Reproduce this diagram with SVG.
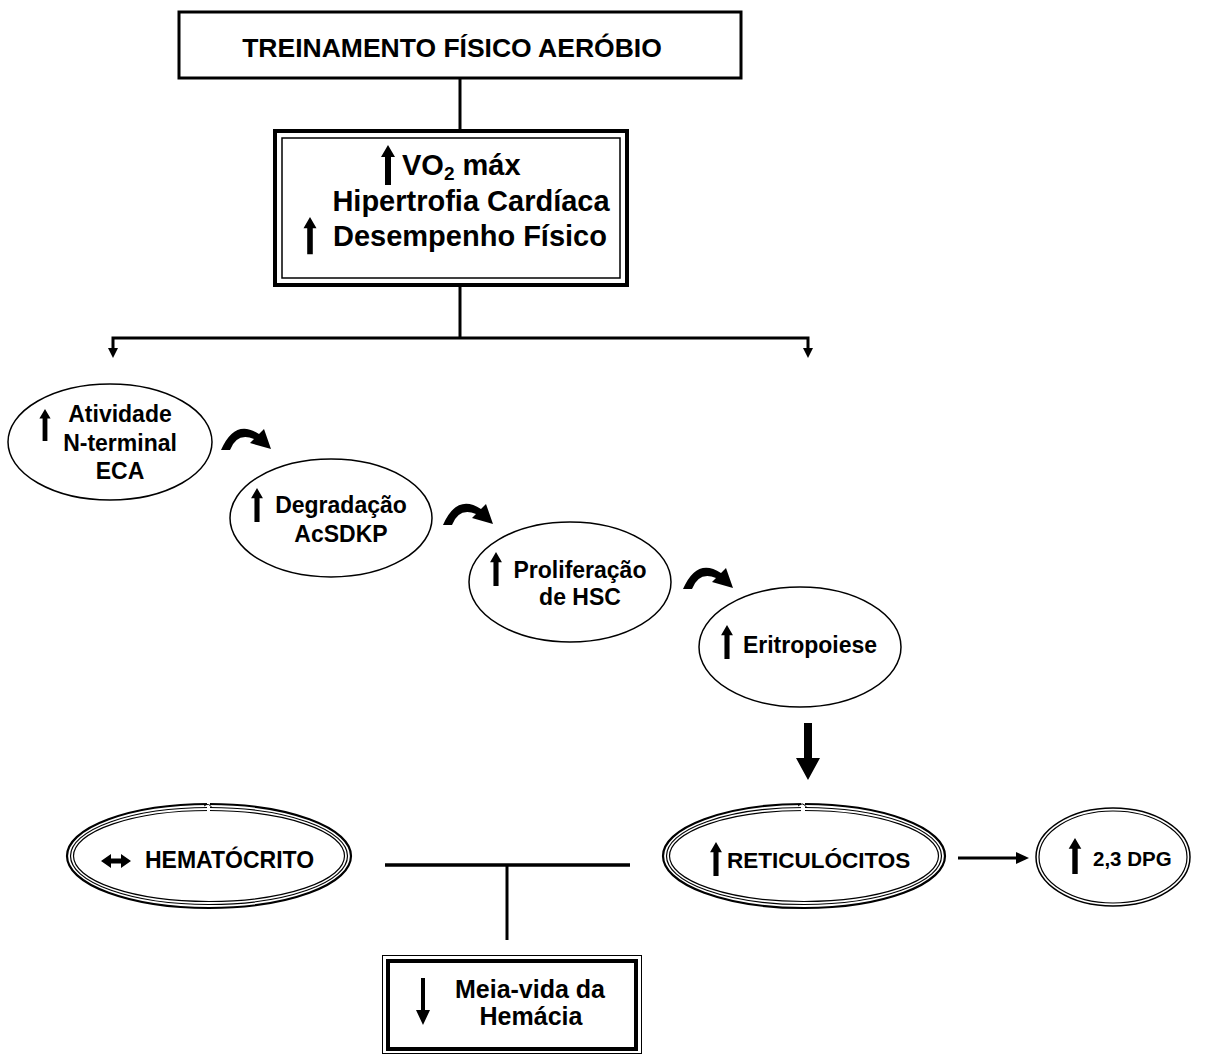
<svg xmlns="http://www.w3.org/2000/svg" xmlns:xlink="http://www.w3.org/1999/xlink" width="1206" height="1054" viewBox="0 0 1206 1054">
<style>
text{font-family:"Liberation Sans",Arial,sans-serif;font-weight:bold;fill:#000}
.ln{stroke:#000;fill:none}
.el{fill:#fff;stroke:#000;stroke-width:1.5}
.t26{font-size:26.5px}
.t28{font-size:29px}
.t22{font-size:23px}
.t25{font-size:25px}
.gap{fill:#fff}
</style>
<defs>
<path id="up" d="M0,0 L7,12 L3,12 L3,40 L-3,40 L-3,12 L-7,12 Z" fill="#000"/>
<path id="curv" d="M0,22 Q14,-10 38,6 L43,1 L50,21 L29,15 L33,11 Q16,4 9,22 Z" fill="#000"/>
<path id="dnhead" d="M-5,0 L5,0 L0,10 Z" fill="#000"/>
</defs>
<rect width="1206" height="1054" fill="#fff"/>

<g id="connectors">
<line class="ln" x1="460" y1="78" x2="460" y2="129" stroke-width="3"/>
<line class="ln" x1="460" y1="287" x2="460" y2="338" stroke-width="3"/>
<polyline class="ln" points="113,350 113,338 808,338 808,350" stroke-width="3"/>
<use xlink:href="#dnhead" transform="translate(113,348)"/>
<use xlink:href="#dnhead" transform="translate(808,348)"/>
<use xlink:href="#curv" transform="translate(221,428)"/>
<use xlink:href="#curv" transform="translate(443,503)"/>
<use xlink:href="#curv" transform="translate(683,567)"/>
<path d="M804,723 L812,723 L812,758 L820,758 L808,780 L796,758 L804,758 Z" fill="#000"/>
<line class="ln" x1="385" y1="865" x2="630" y2="865" stroke-width="3.5"/>
<line class="ln" x1="507" y1="865" x2="507" y2="940" stroke-width="3"/>
<line class="ln" x1="958" y1="858" x2="1018" y2="858" stroke-width="3"/>
<path d="M1016,852 L1029,858 L1016,864 Z" fill="#000"/>
</g>

<g id="n-treinamento">
<rect x="179" y="12" width="562" height="66" fill="#fff" stroke="#000" stroke-width="3"/>
<text x="452" y="57" class="t26" text-anchor="middle">TREINAMENTO FÍSICO AERÓBIO</text>
</g>

<g id="n-vo2">
<rect x="275" y="131" width="352" height="154" fill="#fff" stroke="#000" stroke-width="4"/>
<rect x="282" y="138" width="338" height="140" fill="none" stroke="#000" stroke-width="1.5"/>
<use xlink:href="#up" transform="translate(388,145)"/>
<text x="402" y="175" class="t28">VO<tspan font-size="19" dy="5">2</tspan><tspan dy="-5"> máx</tspan></text>
<text x="471" y="211" class="t28" text-anchor="middle">Hipertrofia Cardíaca</text>
<use xlink:href="#up" transform="translate(310,217) scale(0.93)"/>
<text x="333" y="246" class="t28">Desempenho Físico</text>
</g>

<g id="n-atividade">
<ellipse class="el" cx="110" cy="442" rx="102" ry="58"/>
<use xlink:href="#up" transform="translate(45,409) scale(0.8)"/>
<text x="120" y="422" class="t22" text-anchor="middle">Atividade</text>
<text x="120" y="451" class="t22" text-anchor="middle">N-terminal</text>
<text x="120" y="479" class="t22" text-anchor="middle">ECA</text>
</g>

<g id="n-degradacao">
<ellipse class="el" cx="331" cy="518" rx="101" ry="59"/>
<use xlink:href="#up" transform="translate(257,488) scale(0.85)"/>
<text x="341" y="513" class="t22" text-anchor="middle">Degradação</text>
<text x="341" y="542" class="t22" text-anchor="middle">AcSDKP</text>
</g>

<g id="n-proliferacao">
<ellipse class="el" cx="570" cy="582" rx="101" ry="60"/>
<use xlink:href="#up" transform="translate(496,552) scale(0.85)"/>
<text x="580" y="578" class="t22" text-anchor="middle">Proliferação</text>
<text x="580" y="605" class="t22" text-anchor="middle">de HSC</text>
</g>

<g id="n-eritropoiese">
<ellipse class="el" cx="800" cy="647" rx="101" ry="60"/>
<use xlink:href="#up" transform="translate(727,625) scale(0.85)"/>
<text x="810" y="653" class="t22" text-anchor="middle">Eritropoiese</text>
</g>

<g id="n-hematocrito">
<ellipse cx="209" cy="856" rx="142" ry="52" fill="#fff" stroke="#000" stroke-width="2.2"/>
<ellipse cx="209" cy="856" rx="138.5" ry="48.5" fill="none" stroke="#000" stroke-width="1.2"/>
<ellipse cx="209" cy="856" rx="135.5" ry="45.5" fill="none" stroke="#000" stroke-width="1.2"/>
<rect class="gap" x="207" y="802" width="3" height="12"/>
<path d="M204,806 Q209,802 212,808" fill="none" stroke="#000" stroke-width="1"/>
<path d="M101,861 L111,854 L111,858.5 L121,858.5 L121,854 L131,861 L121,868 L121,863.5 L111,863.5 L111,868 Z" fill="#000"/>
<text x="145" y="868" class="t22">HEMATÓCRITO</text>
</g>

<g id="n-reticulocitos">
<ellipse cx="804" cy="856" rx="141" ry="52" fill="#fff" stroke="#000" stroke-width="2.2"/>
<ellipse cx="804" cy="856" rx="137.5" ry="48.5" fill="none" stroke="#000" stroke-width="1.2"/>
<ellipse cx="804" cy="856" rx="134.5" ry="45.5" fill="none" stroke="#000" stroke-width="1.2"/>
<rect class="gap" x="801" y="802" width="4" height="12"/>
<path d="M798,806 Q803,801 807,808" fill="none" stroke="#000" stroke-width="1"/>
<use xlink:href="#up" transform="translate(716,842) scale(0.85)"/>
<text x="727" y="868" font-size="22.5">RETICULÓCITOS</text>
</g>

<g id="n-dpg">
<ellipse cx="1113" cy="857" rx="77" ry="49" fill="#fff" stroke="#000" stroke-width="1.5"/>
<ellipse cx="1113" cy="857" rx="74" ry="46" fill="none" stroke="#000" stroke-width="1.2"/>
<use xlink:href="#up" transform="translate(1075,838) scale(0.9)"/>
<text x="1093" y="866" font-size="20.5">2,3 DPG</text>
</g>

<g id="n-meiavida">
<rect x="382.5" y="955.5" width="259" height="98" fill="#fff" stroke="#000" stroke-width="1"/>
<rect x="388" y="961" width="248" height="88" fill="none" stroke="#000" stroke-width="4"/>
<path d="M421,978 L425,978 L425,1010 L430,1010 L423,1025 L416,1010 L421,1010 Z" fill="#000"/>
<text x="530" y="998" class="t25" text-anchor="middle">Meia-vida da</text>
<text x="531" y="1025" class="t25" text-anchor="middle">Hemácia</text>
</g>
</svg>
